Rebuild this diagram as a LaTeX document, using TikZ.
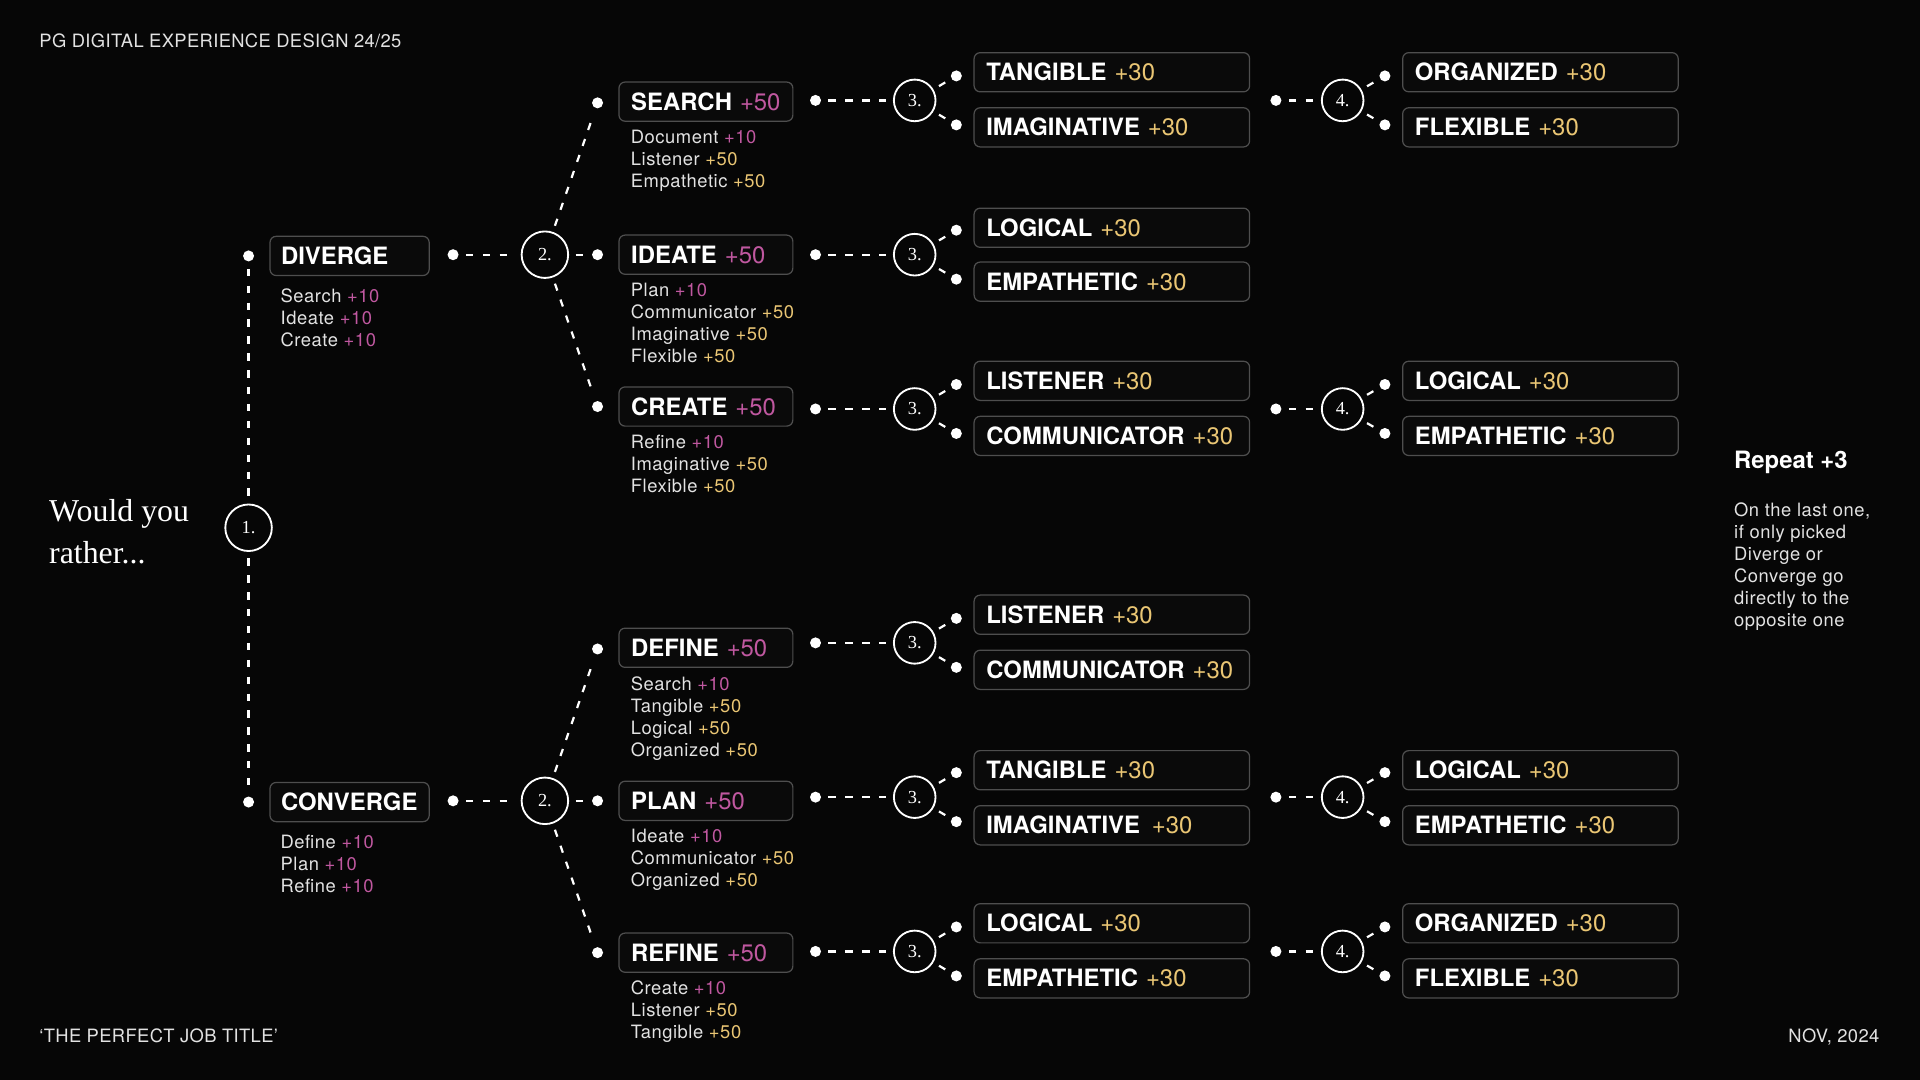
\documentclass[tikz,border=0pt]{standalone}
\usepackage{fontspec}
\setmainfont{TeX Gyre Heros}
\newfontfamily\serifface{Liberation Serif}
\newfontfamily\pointsfont[LetterSpace=3]{TeX Gyre Heros}
\newfontfamily\captionfont[LetterSpace=2,Ligatures=TeX]{TeX Gyre Heros}
\usetikzlibrary{positioning}
\definecolor{bgblack}{RGB}{6,6,6}
\definecolor{boxfill}{RGB}{10,10,10}
\definecolor{boxgray}{RGB}{78,78,78}
\definecolor{softwhite}{RGB}{226,226,226}
\definecolor{pinkpt}{RGB}{192,88,160}
\definecolor{goldpt}{RGB}{234,198,116}
\newcommand{\pinkpts}[1]{\textcolor{pinkpt}{\mdseries #1}}
\newcommand{\goldpts}[1]{\textcolor{goldpt}{\mdseries #1}}

\begin{document}
\begin{tikzpicture}[x=1pt,y=-1pt,
    dot/.style={circle,fill=white,inner sep=0pt,minimum size=9pt,outer sep=6pt},
    pick/.style={circle,draw=white,line width=1.5pt,inner sep=0pt,minimum size=38pt,outer sep=6pt,text=white,font=\serifface\fontsize{15}{15}\selectfont},
    small pick/.style={pick,minimum size=34pt},
    link/.style={draw=white,line width=1.8pt,dash pattern=on 6pt off 7.8pt},
    choice/.style={draw=boxgray,line width=1pt,rounded corners=5pt,fill=boxfill,anchor=west,minimum height=32pt,text width=122pt,inner xsep=10pt,inner ysep=0pt,text height=14pt,text depth=0pt,align=left,text=white,font=\bfseries\fontsize{19.5}{20}\selectfont},
    trait/.style={choice,text width=205pt},
    points/.style={anchor=north west,inner sep=0pt,align=left,text=softwhite,font=\pointsfont\fontsize{15}{18}\selectfont},
    caption/.style={inner sep=0pt,text=softwhite,font=\captionfont\fontsize{15}{15}\selectfont}]
\useasboundingbox (0,0) rectangle (1568,882);
\fill[bgblack] (0,0) rectangle (1568,882);

\node[caption,anchor=base west] (header) at (32,38.5) {PG DIGITAL EXPERIENCE DESIGN 24/25};
\node[caption,anchor=base west] (footer) at (32,851.5) {‘THE PERFECT JOB TITLE’};
\node[caption,anchor=base east] (date) at (1535,851.5) {NOV, 2024};
\node[anchor=north west,inner sep=0pt,align=left,text=white,font=\serifface\fontsize{26}{34}\selectfont] (question) at (40,408) {Would you\\rather...};

%% first pick
\node[dot] (diverge dot) at (203,209) {};
\node[pick] (first pick) at (203,431) {1.};
\node[dot] (converge dot) at (203,655) {};
\draw[link] (diverge dot) -- (first pick);
\draw[link] (first pick) -- (converge dot);

\node[choice,text width=112pt,inner xsep=9pt] (diverge) at (220,209) {DIVERGE};
\node[points] (diverge points) at ([xshift=9pt,yshift=-10pt]diverge.south west) {Search \pinkpts{+10}\\Ideate \pinkpts{+10}\\Create \pinkpts{+10}};
\node[choice,text width=112pt,inner xsep=9pt] (converge) at (220,655) {CONVERGE};
\node[points] (converge points) at ([xshift=9pt,yshift=-10pt]converge.south west) {Define \pinkpts{+10}\\Plan \pinkpts{+10}\\Refine \pinkpts{+10}};

%% diverge branch
\node[dot] (diverge out) at (370,208) {};
\node[pick] (diverge pick) at (445,208) {2.};
\draw[link] (diverge out) -- (diverge pick);
\node[dot] (search dot) at (488,84) {};
\node[dot] (ideate dot) at (488,208) {};
\node[dot] (create dot) at (488,332) {};
\draw[link] (diverge pick) -- (search dot);
\draw[link] (diverge pick) -- (ideate dot);
\draw[link] (diverge pick) -- (create dot);

\node[choice] (search) at (505,83) {SEARCH \pinkpts{+50}};
\node[points] (search points) at ([xshift=10pt,yshift=-6.6pt]search.south west) {Document \pinkpts{+10}\\Listener \goldpts{+50}\\Empathetic \goldpts{+50}};
\node[choice] (ideate) at (505,208) {IDEATE \pinkpts{+50}};
\node[points] (ideate points) at ([xshift=10pt,yshift=-6.6pt]ideate.south west) {Plan \pinkpts{+10}\\Communicator \goldpts{+50}\\Imaginative \goldpts{+50}\\Flexible \goldpts{+50}};
\node[choice] (create) at (505,332) {CREATE \pinkpts{+50}};
\node[points] (create points) at ([xshift=10pt,yshift=-6.6pt]create.south west) {Refine \pinkpts{+10}\\Imaginative \goldpts{+50}\\Flexible \goldpts{+50}};

% search row
\node[dot] (search out) at (666,82) {};
\node[small pick] (search pick) at (747,82) {3.};
\node[dot] (search up dot) at (781,62) {};
\node[dot] (search down dot) at (781,102) {};
\draw[link] (search out) -- (search pick);
\draw[link] (search pick) -- (search up dot);
\draw[link] (search pick) -- (search down dot);
\node[trait] (search up) at (795,59) {TANGIBLE \goldpts{+30}};
\node[trait] (search down) at (795,104) {IMAGINATIVE \goldpts{+30}};
\node[dot] (search last out) at (1042,82) {};
\node[small pick] (search last pick) at (1096.5,82) {4.};
\node[dot] (search last up dot) at (1131,62) {};
\node[dot] (search last down dot) at (1131,102) {};
\draw[link] (search last out) -- (search last pick);
\draw[link] (search last pick) -- (search last up dot);
\draw[link] (search last pick) -- (search last down dot);
\node[trait] (search last up) at (1145,59) {ORGANIZED \goldpts{+30}};
\node[trait] (search last down) at (1145,104) {FLEXIBLE \goldpts{+30}};

% ideate row
\node[dot] (ideate out) at (666,208) {};
\node[small pick] (ideate pick) at (747,208) {3.};
\node[dot] (ideate up dot) at (781,188) {};
\node[dot] (ideate down dot) at (781,228) {};
\draw[link] (ideate out) -- (ideate pick);
\draw[link] (ideate pick) -- (ideate up dot);
\draw[link] (ideate pick) -- (ideate down dot);
\node[trait] (ideate up) at (795,186) {LOGICAL \goldpts{+30}};
\node[trait] (ideate down) at (795,230) {EMPATHETIC \goldpts{+30}};

% create row
\node[dot] (create out) at (666,334) {};
\node[small pick] (create pick) at (747,334) {3.};
\node[dot] (create up dot) at (781,314) {};
\node[dot] (create down dot) at (781,354) {};
\draw[link] (create out) -- (create pick);
\draw[link] (create pick) -- (create up dot);
\draw[link] (create pick) -- (create down dot);
\node[trait] (create up) at (795,311) {LISTENER \goldpts{+30}};
\node[trait] (create down) at (795,356) {COMMUNICATOR \goldpts{+30}};
\node[dot] (create last out) at (1042,334) {};
\node[small pick] (create last pick) at (1096.5,334) {4.};
\node[dot] (create last up dot) at (1131,314) {};
\node[dot] (create last down dot) at (1131,354) {};
\draw[link] (create last out) -- (create last pick);
\draw[link] (create last pick) -- (create last up dot);
\draw[link] (create last pick) -- (create last down dot);
\node[trait] (create last up) at (1145,311) {LOGICAL \goldpts{+30}};
\node[trait] (create last down) at (1145,356) {EMPATHETIC \goldpts{+30}};

%% converge branch
\node[dot] (converge out) at (370,654) {};
\node[pick] (converge pick) at (445,654) {2.};
\draw[link] (converge out) -- (converge pick);
\node[dot] (define dot) at (488,530) {};
\node[dot] (plan dot) at (488,654) {};
\node[dot] (refine dot) at (488,778) {};
\draw[link] (converge pick) -- (define dot);
\draw[link] (converge pick) -- (plan dot);
\draw[link] (converge pick) -- (refine dot);

\node[choice] (define) at (505,529) {DEFINE \pinkpts{+50}};
\node[points] (define points) at ([xshift=10pt,yshift=-6.6pt]define.south west) {Search \pinkpts{+10}\\Tangible \goldpts{+50}\\Logical \goldpts{+50}\\Organized \goldpts{+50}};
\node[choice] (plan) at (505,654) {PLAN \pinkpts{+50}};
\node[points] (plan points) at ([xshift=10pt,yshift=-6.6pt]plan.south west) {Ideate \pinkpts{+10}\\Communicator \goldpts{+50}\\Organized \goldpts{+50}};
\node[choice] (refine) at (505,778) {REFINE \pinkpts{+50}};
\node[points] (refine points) at ([xshift=10pt,yshift=-6.6pt]refine.south west) {Create \pinkpts{+10}\\Listener \goldpts{+50}\\Tangible \goldpts{+50}};

% define row
\node[dot] (define out) at (666,525) {};
\node[small pick] (define pick) at (747,525) {3.};
\node[dot] (define up dot) at (781,505) {};
\node[dot] (define down dot) at (781,545) {};
\draw[link] (define out) -- (define pick);
\draw[link] (define pick) -- (define up dot);
\draw[link] (define pick) -- (define down dot);
\node[trait] (define up) at (795,502) {LISTENER \goldpts{+30}};
\node[trait] (define down) at (795,547) {COMMUNICATOR \goldpts{+30}};

% plan row
\node[dot] (plan out) at (666,651) {};
\node[small pick] (plan pick) at (747,651) {3.};
\node[dot] (plan up dot) at (781,631) {};
\node[dot] (plan down dot) at (781,671) {};
\draw[link] (plan out) -- (plan pick);
\draw[link] (plan pick) -- (plan up dot);
\draw[link] (plan pick) -- (plan down dot);
\node[trait] (plan up) at (795,629) {TANGIBLE \goldpts{+30}};
\node[trait] (plan down) at (795,674) {IMAGINATIVE\enspace\goldpts{+30}};
\node[dot] (plan last out) at (1042,651) {};
\node[small pick] (plan last pick) at (1096.5,651) {4.};
\node[dot] (plan last up dot) at (1131,631) {};
\node[dot] (plan last down dot) at (1131,671) {};
\draw[link] (plan last out) -- (plan last pick);
\draw[link] (plan last pick) -- (plan last up dot);
\draw[link] (plan last pick) -- (plan last down dot);
\node[trait] (plan last up) at (1145,629) {LOGICAL \goldpts{+30}};
\node[trait] (plan last down) at (1145,674) {EMPATHETIC \goldpts{+30}};

% refine row
\node[dot] (refine out) at (666,777) {};
\node[small pick] (refine pick) at (747,777) {3.};
\node[dot] (refine up dot) at (781,757) {};
\node[dot] (refine down dot) at (781,797) {};
\draw[link] (refine out) -- (refine pick);
\draw[link] (refine pick) -- (refine up dot);
\draw[link] (refine pick) -- (refine down dot);
\node[trait] (refine up) at (795,754) {LOGICAL \goldpts{+30}};
\node[trait] (refine down) at (795,799) {EMPATHETIC \goldpts{+30}};
\node[dot] (refine last out) at (1042,777) {};
\node[small pick] (refine last pick) at (1096.5,777) {4.};
\node[dot] (refine last up dot) at (1131,757) {};
\node[dot] (refine last down dot) at (1131,797) {};
\draw[link] (refine last out) -- (refine last pick);
\draw[link] (refine last pick) -- (refine last up dot);
\draw[link] (refine last pick) -- (refine last down dot);
\node[trait] (refine last up) at (1145,754) {ORGANIZED \goldpts{+30}};
\node[trait] (refine last down) at (1145,799) {FLEXIBLE \goldpts{+30}};

%% side note
\node[anchor=base west,inner sep=0pt,text=white,font=\bfseries\fontsize{19.5}{20}\selectfont] (repeat) at (1416,383) {Repeat +3};
\node[points] (repeat note) at (1416,410.6) {On the last one,\\if only picked\\Diverge or\\Converge go\\directly to the\\opposite one};
\end{tikzpicture}
\end{document}
